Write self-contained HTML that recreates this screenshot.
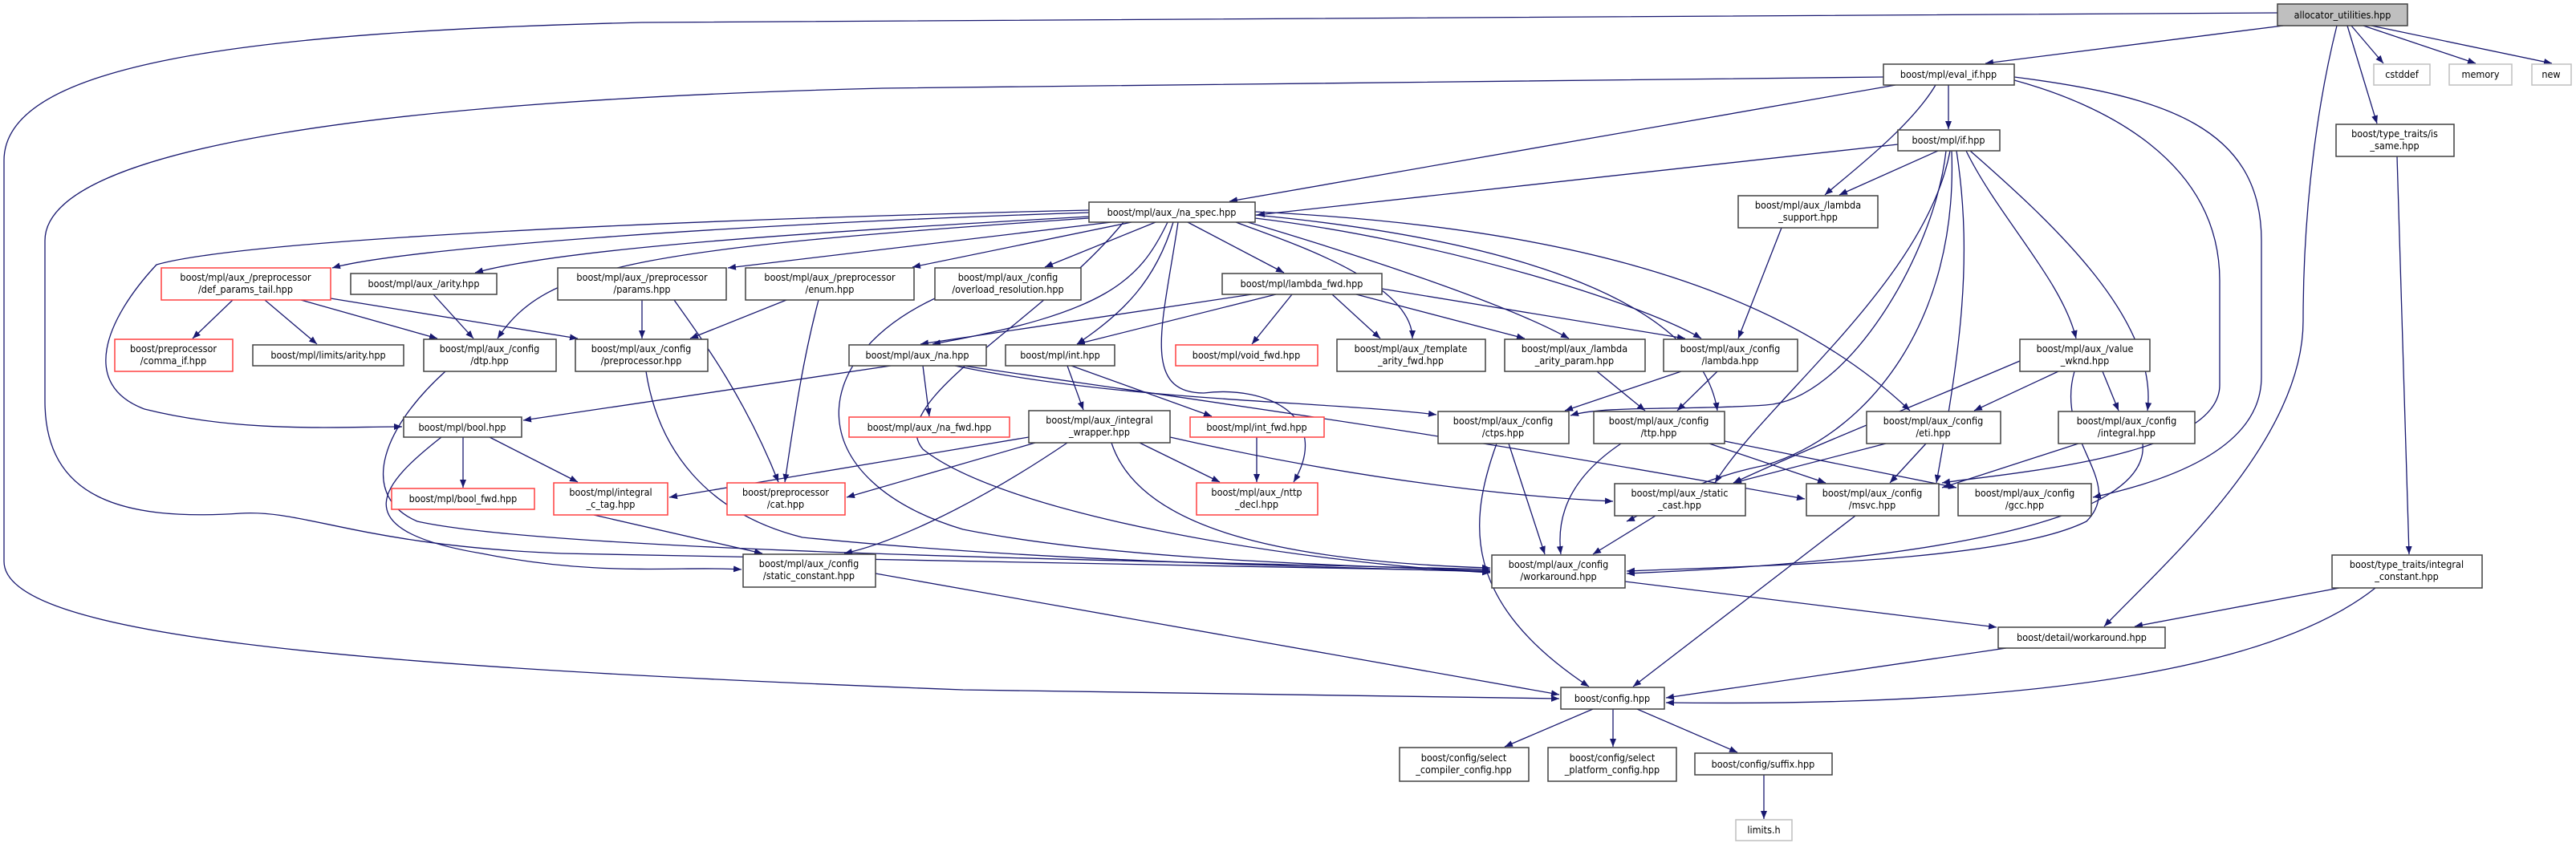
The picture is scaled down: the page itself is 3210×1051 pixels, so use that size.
<!DOCTYPE html>
<html><head><meta charset="utf-8"><style>
html,body{margin:0;padding:0;background:#fff}
svg{display:block}
text{font-family:"DejaVu Sans Condensed","Liberation Sans Narrow","Liberation Sans",sans-serif;font-size:12.5px;fill:#000;text-anchor:middle}
.e{fill:none;stroke:#191970;stroke-width:1.3}
.n{fill:#fff;stroke:#404040;stroke-width:1.5}
.r{fill:#fff;stroke:#ff4040;stroke-width:1.5}
.g{fill:#fff;stroke:#bfbfbf;stroke-width:1.5}
</style></head><body>
<svg width="3210" height="1051" viewBox="0 0 3210 1051" xmlns="http://www.w3.org/2000/svg">
<defs><marker id="a" markerUnits="userSpaceOnUse" markerWidth="11" markerHeight="8" refX="10" refY="4" orient="auto"><path d="M0,0 L10,4 L0,8 z" fill="#191970"/></marker></defs>
<g class="e" marker-end="url(#a)">
<path d="M2838,16 L800,28 C300,40 5,80 5,200 L5,700 C5,790 400,830 1200,860 L1943,871"/>
<path d="M2845,32 L2474,79"/>
<path d="M2930,32 L2970,79"/>
<path d="M2945,32 L3085,79"/>
<path d="M2955,32 L3180,79"/>
<path d="M2925,32 L2962,154"/>
<path d="M2912,32 C2890,120 2870,250 2870,400 C2870,550 2700,700 2622,781"/>
<path d="M2362,106 L1532,251"/>
<path d="M2428,106 L2428,161"/>
<path d="M2412,106 C2380,160 2300,220 2274,243"/>
<path d="M2347,96 L1100,110 C500,125 56,180 56,300 L56,500 C56,620 150,650 300,640 C380,635 450,680 700,690 L1857,712"/>
<path d="M2510,100 C2620,130 2766,200 2766,350 L2766,480 C2766,570 2500,590 2420,602"/>
<path d="M2510,96 C2700,120 2818,160 2818,300 L2818,470 C2818,560 2700,600 2608,620"/>
<path d="M2365,180 L1566,268"/>
<path d="M2415,188 L2292,243"/>
<path d="M2450,188 C2490,270 2570,350 2587,422"/>
<path d="M2455,188 C2560,280 2690,400 2676,512"/>
<path d="M2425,188 C2410,320 2300,500 2200,505 C2100,512 2000,505 1957,518"/>
<path d="M2430,188 C2400,350 2200,500 2137,602"/>
<path d="M2438,188 C2460,330 2440,450 2413,602"/>
<path d="M2432,188 C2440,400 2330,540 2200,580 C2100,600 2050,640 2027,650"/>
<path d="M2220,284 L2166,422"/>
<path d="M1357,265 C900,280 500,310 414,334"/>
<path d="M1357,270 C1000,290 700,310 592,340"/>
<path d="M1385,277 L907,334"/>
<path d="M1410,277 L1137,333"/>
<path d="M1440,277 L1302,333"/>
<path d="M1480,277 L1600,340"/>
<path d="M1455,277 C1420,350 1380,390 1162,429"/>
<path d="M1462,277 C1440,350 1400,390 1342,429"/>
<path d="M1468,277 C1450,400 1420,490 1500,490 C1580,480 1660,520 1612,601"/>
<path d="M1540,277 C1600,300 1760,350 1760,422"/>
<path d="M1555,277 C1700,320 1880,380 1955,422"/>
<path d="M1564,272 C1800,300 2050,380 2120,422"/>
<path d="M1357,272 C800,310 680,330 620,422"/>
<path d="M1357,262 C800,275 300,300 195,330 C130,400 100,480 180,510 C300,540 420,532 501,532"/>
<path d="M1564,268 C1900,300 2120,380 2140,512"/>
<path d="M1564,264 C1900,280 2200,340 2380,512"/>
<path d="M1400,277 C1300,400 1100,500 1150,560 C1250,640 1600,700 1857,714"/>
<path d="M1610,367 L1560,429"/>
<path d="M1560,367 L1147,429"/>
<path d="M1590,367 L1342,429"/>
<path d="M1660,367 L1720,422"/>
<path d="M1690,367 L1900,422"/>
<path d="M1722,360 L2100,422"/>
<path d="M1110,456 L652,524"/>
<path d="M1150,456 L1158,519"/>
<path d="M1190,456 C1400,500 1650,500 1790,517"/>
<path d="M1200,456 C1500,500 1800,540 2249,622"/>
<path d="M1335,456 L1510,519"/>
<path d="M1330,456 L1350,511"/>
<path d="M1566,545 L1566,601"/>
<path d="M1282,545 L834,620"/>
<path d="M1290,552 L1055,620"/>
<path d="M1330,552 C1200,640 1100,680 1052,690"/>
<path d="M1420,552 L1520,601"/>
<path d="M1458,545 C1700,600 1900,620 2010,625"/>
<path d="M1385,552 C1420,660 1600,700 1857,708"/>
<path d="M577,545 L577,608"/>
<path d="M610,545 L720,601"/>
<path d="M550,545 C480,600 420,660 600,690 C750,720 850,705 924,710"/>
<path d="M740,642 L950,690"/>
<path d="M1091,715 L1943,866"/>
<path d="M290,374 L240,422"/>
<path d="M330,374 L395,429"/>
<path d="M375,374 L545,422"/>
<path d="M412,372 L720,422"/>
<path d="M540,367 L590,422"/>
<path d="M800,374 L800,422"/>
<path d="M840,374 C880,430 930,500 970,601"/>
<path d="M980,374 L860,422"/>
<path d="M1020,374 C1000,450 990,520 978,601"/>
<path d="M1165,372 C1000,450 1000,600 1200,660 C1400,700 1700,705 1857,712"/>
<path d="M555,463 C470,540 450,620 520,650 C700,690 1500,700 1857,710"/>
<path d="M805,463 C820,560 880,640 1000,670 C1300,700 1600,705 1857,713"/>
<path d="M1990,463 L2050,512"/>
<path d="M2095,463 L1950,512"/>
<path d="M2140,463 L2090,512"/>
<path d="M2517,450 C2400,500 2250,560 2160,602"/>
<path d="M2565,463 L2460,512"/>
<path d="M2620,463 L2640,512"/>
<path d="M2585,463 C2560,550 2650,600 2600,650 C2500,700 2200,705 2027,712"/>
<path d="M1880,553 L1925,691"/>
<path d="M1865,553 C1830,650 1820,750 1980,856"/>
<path d="M2020,553 C1950,600 1940,650 1945,691"/>
<path d="M2130,553 L2275,602"/>
<path d="M2149,550 L2438,608"/>
<path d="M2350,553 L2160,602"/>
<path d="M2400,553 L2355,602"/>
<path d="M2590,553 L2420,608"/>
<path d="M2670,553 C2680,650 2400,700 2027,715"/>
<path d="M2063,643 L1985,691"/>
<path d="M2312,643 L2035,856"/>
<path d="M2025,725 L2488,782"/>
<path d="M2500,808 L2076,870"/>
<path d="M2915,733 L2660,781"/>
<path d="M2960,733 C2800,860 2400,880 2076,876"/>
<path d="M1985,884 L1875,931"/>
<path d="M2010,884 L2010,931"/>
<path d="M2040,884 L2165,938"/>
<path d="M2198,966 L2198,1021"/>
<path d="M2987,195 L3002,691"/>
</g>
<g>
<rect x="2838" y="5" width="162" height="27" fill="#bfbfbf" stroke="#404040" stroke-width="1.5"/><text x="2919" y="23">allocator_utilities.hpp</text>
<rect class="n" x="2347" y="80" width="163" height="26"/><text x="2428" y="97">boost/mpl/eval_if.hpp</text>
<rect class="g" x="2958" y="80" width="70" height="26"/><text x="2993" y="97">cstddef</text>
<rect class="g" x="3052" y="80" width="78" height="26"/><text x="3091" y="97">memory</text>
<rect class="g" x="3155" y="80" width="49" height="26"/><text x="3179" y="97">new</text>
<rect class="n" x="2365" y="162" width="127" height="26"/><text x="2428" y="179">boost/mpl/if.hpp</text>
<rect class="n" x="2911" y="155" width="147" height="40"/><text x="2984" y="171">boost/type_traits/is</text><text x="2984" y="186">_same.hpp</text>
<rect class="n" x="2166" y="244" width="174" height="40"/><text x="2253" y="260">boost/mpl/aux_/lambda</text><text x="2253" y="275">_support.hpp</text>
<rect class="n" x="1357" y="252" width="207" height="25"/><text x="1460" y="269">boost/mpl/aux_/na_spec.hpp</text>
<rect class="r" x="201" y="334" width="211" height="40"/><text x="306" y="350">boost/mpl/aux_/preprocessor</text><text x="306" y="365">/def_params_tail.hpp</text>
<rect class="n" x="437" y="341" width="182" height="26"/><text x="528" y="358">boost/mpl/aux_/arity.hpp</text>
<rect class="n" x="695" y="334" width="210" height="40"/><text x="800" y="350">boost/mpl/aux_/preprocessor</text><text x="800" y="365">/params.hpp</text>
<rect class="n" x="929" y="334" width="210" height="40"/><text x="1034" y="350">boost/mpl/aux_/preprocessor</text><text x="1034" y="365">/enum.hpp</text>
<rect class="n" x="1165" y="334" width="182" height="40"/><text x="1256" y="350">boost/mpl/aux_/config</text><text x="1256" y="365">/overload_resolution.hpp</text>
<rect class="n" x="1523" y="341" width="199" height="26"/><text x="1622" y="358">boost/mpl/lambda_fwd.hpp</text>
<rect class="r" x="143" y="423" width="147" height="40"/><text x="216" y="439">boost/preprocessor</text><text x="216" y="454">/comma_if.hpp</text>
<rect class="n" x="315" y="430" width="188" height="26"/><text x="409" y="447">boost/mpl/limits/arity.hpp</text>
<rect class="n" x="528" y="423" width="165" height="40"/><text x="610" y="439">boost/mpl/aux_/config</text><text x="610" y="454">/dtp.hpp</text>
<rect class="n" x="717" y="423" width="165" height="40"/><text x="799" y="439">boost/mpl/aux_/config</text><text x="799" y="454">/preprocessor.hpp</text>
<rect class="n" x="1058" y="430" width="171" height="26"/><text x="1143" y="447">boost/mpl/aux_/na.hpp</text>
<rect class="n" x="1253" y="430" width="136" height="26"/><text x="1321" y="447">boost/mpl/int.hpp</text>
<rect class="r" x="1465" y="430" width="177" height="26"/><text x="1553" y="447">boost/mpl/void_fwd.hpp</text>
<rect class="n" x="1666" y="423" width="185" height="40"/><text x="1758" y="439">boost/mpl/aux_/template</text><text x="1758" y="454">_arity_fwd.hpp</text>
<rect class="n" x="1875" y="423" width="175" height="40"/><text x="1962" y="439">boost/mpl/aux_/lambda</text><text x="1962" y="454">_arity_param.hpp</text>
<rect class="n" x="2073" y="423" width="167" height="40"/><text x="2156" y="439">boost/mpl/aux_/config</text><text x="2156" y="454">/lambda.hpp</text>
<rect class="n" x="2517" y="423" width="162" height="40"/><text x="2598" y="439">boost/mpl/aux_/value</text><text x="2598" y="454">_wknd.hpp</text>
<rect class="n" x="503" y="520" width="147" height="25"/><text x="576" y="537">boost/mpl/bool.hpp</text>
<rect class="r" x="1058" y="520" width="200" height="25"/><text x="1158" y="537">boost/mpl/aux_/na_fwd.hpp</text>
<rect class="n" x="1282" y="512" width="176" height="40"/><text x="1370" y="528">boost/mpl/aux_/integral</text><text x="1370" y="543">_wrapper.hpp</text>
<rect class="r" x="1483" y="520" width="167" height="25"/><text x="1566" y="537">boost/mpl/int_fwd.hpp</text>
<rect class="n" x="1792" y="513" width="163" height="40"/><text x="1873" y="529">boost/mpl/aux_/config</text><text x="1873" y="544">/ctps.hpp</text>
<rect class="n" x="1986" y="513" width="163" height="40"/><text x="2067" y="529">boost/mpl/aux_/config</text><text x="2067" y="544">/ttp.hpp</text>
<rect class="n" x="2326" y="513" width="167" height="40"/><text x="2409" y="529">boost/mpl/aux_/config</text><text x="2409" y="544">/eti.hpp</text>
<rect class="n" x="2565" y="513" width="170" height="40"/><text x="2650" y="529">boost/mpl/aux_/config</text><text x="2650" y="544">/integral.hpp</text>
<rect class="r" x="488" y="609" width="178" height="26"/><text x="577" y="626">boost/mpl/bool_fwd.hpp</text>
<rect class="r" x="690" y="602" width="142" height="40"/><text x="761" y="618">boost/mpl/integral</text><text x="761" y="633">_c_tag.hpp</text>
<rect class="r" x="906" y="602" width="147" height="40"/><text x="979" y="618">boost/preprocessor</text><text x="979" y="633">/cat.hpp</text>
<rect class="r" x="1491" y="602" width="151" height="40"/><text x="1566" y="618">boost/mpl/aux_/nttp</text><text x="1566" y="633">_decl.hpp</text>
<rect class="n" x="2012" y="603" width="163" height="40"/><text x="2093" y="619">boost/mpl/aux_/static</text><text x="2093" y="634">_cast.hpp</text>
<rect class="n" x="2251" y="603" width="165" height="40"/><text x="2333" y="619">boost/mpl/aux_/config</text><text x="2333" y="634">/msvc.hpp</text>
<rect class="n" x="2440" y="603" width="166" height="40"/><text x="2523" y="619">boost/mpl/aux_/config</text><text x="2523" y="634">/gcc.hpp</text>
<rect class="n" x="926" y="691" width="165" height="41"/><text x="1008" y="707">boost/mpl/aux_/config</text><text x="1008" y="722">/static_constant.hpp</text>
<rect class="n" x="1859" y="692" width="166" height="41"/><text x="1942" y="708">boost/mpl/aux_/config</text><text x="1942" y="723">/workaround.hpp</text>
<rect class="n" x="2906" y="692" width="187" height="41"/><text x="2999" y="708">boost/type_traits/integral</text><text x="2999" y="723">_constant.hpp</text>
<rect class="n" x="2490" y="782" width="208" height="26"/><text x="2594" y="799">boost/detail/workaround.hpp</text>
<rect class="n" x="1945" y="857" width="129" height="27"/><text x="2009" y="875">boost/config.hpp</text>
<rect class="n" x="1744" y="932" width="161" height="42"/><text x="1824" y="949">boost/config/select</text><text x="1824" y="964">_compiler_config.hpp</text>
<rect class="n" x="1929" y="932" width="160" height="42"/><text x="2009" y="949">boost/config/select</text><text x="2009" y="964">_platform_config.hpp</text>
<rect class="n" x="2112" y="939" width="171" height="27"/><text x="2197" y="957">boost/config/suffix.hpp</text>
<rect class="g" x="2163" y="1022" width="70" height="26"/><text x="2198" y="1039">limits.h</text>
</g>
</svg>
</body></html>
